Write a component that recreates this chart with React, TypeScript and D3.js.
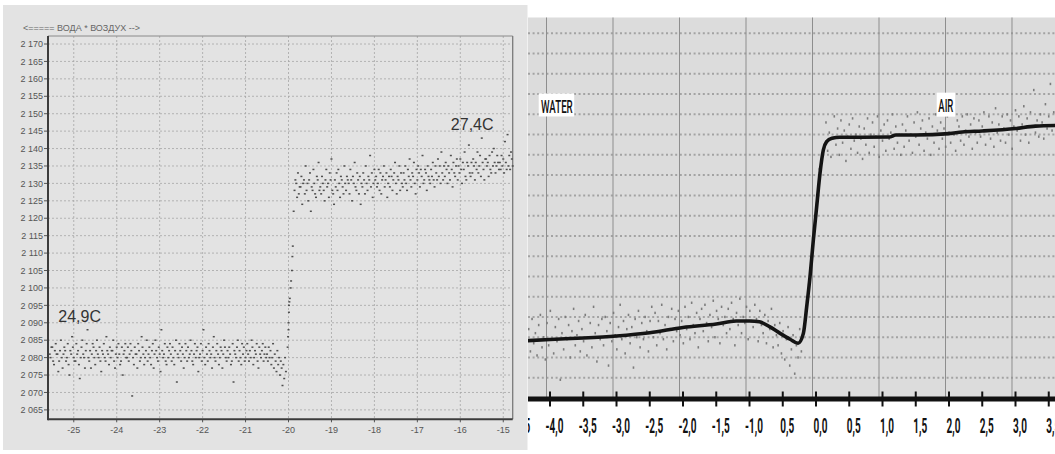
import React from 'react';
import * as d3 from 'd3';

// ---------- Left panel: raw sensor counts while moving from water into air ----------
const leftTitle = '<===== ВОДА * ВОЗДУХ -->';
const leftYTicks = [2065, 2070, 2075, 2080, 2085, 2090, 2095, 2100, 2105, 2110, 2115, 2120, 2125, 2130, 2135, 2140, 2145, 2150, 2155, 2160, 2165, 2170];
const leftXTicks = [-25, -24, -23, -22, -21, -20, -19, -18, -17, -16, -15];
const waterTempLabel = '24,9C';
const airTempLabel = '27,4C';

// samples are 0.02 s apart
const sampleStep = 0.02;
const waterStart = -25.56;
const waterCounts = [
  2081, 2080, 2083, 2083, 2079, 2078, 2082, 2084, 2081, 2081, 2076, 2079, 2082, 2085, 2080, 2077, 2081, 2083, 2082, 2079, 2080, 2084, 2078,
  2075, 2082, 2081, 2086, 2083, 2080, 2079, 2079, 2084, 2081, 2082, 2078, 2074, 2080, 2083, 2085, 2081, 2080, 2077, 2082, 2084, 2088, 2080,
  2079, 2082, 2077, 2081, 2084, 2083, 2080, 2078, 2082, 2085, 2081, 2080, 2083, 2079, 2076, 2082, 2081, 2084, 2080, 2079, 2086, 2082, 2081,
  2078, 2083, 2080, 2082, 2082, 2085, 2079, 2077, 2081, 2083, 2080, 2084, 2081, 2078, 2079, 2083, 2075, 2081, 2082, 2084, 2080, 2080, 2083,
  2079, 2081, 2084, 2082, 2069, 2080, 2078, 2083, 2081, 2081, 2077, 2084, 2082, 2079, 2080, 2086, 2083, 2081, 2078, 2080, 2082, 2085, 2079,
  2081, 2083, 2080, 2078, 2082, 2084, 2077, 2081, 2085, 2082, 2080, 2079, 2083, 2081, 2076, 2088, 2082, 2080, 2081, 2084, 2079, 2078, 2083,
  2080, 2082, 2084, 2081, 2079, 2083, 2080, 2078, 2082, 2085, 2073, 2081, 2080, 2084, 2082, 2079, 2083, 2081, 2077, 2080, 2084, 2082, 2079,
  2083, 2080, 2081, 2085, 2082, 2079, 2078, 2081, 2084, 2080, 2082, 2083, 2076, 2080, 2081, 2084, 2079, 2082, 2088, 2080, 2078, 2083, 2081,
  2079, 2084, 2082, 2080, 2081, 2077, 2083, 2086, 2080, 2079, 2082, 2084, 2081, 2078, 2080, 2083, 2082, 2077, 2081, 2085, 2083, 2080, 2079,
  2082, 2080, 2083, 2081, 2078, 2079, 2084, 2073, 2082, 2081, 2080, 2083, 2085, 2079, 2082, 2080, 2078, 2084, 2081, 2083, 2079, 2080, 2082,
  2084, 2081, 2079, 2082, 2080, 2085, 2083, 2078, 2080, 2082, 2081, 2084, 2079, 2077, 2083, 2081, 2080, 2082, 2084, 2079, 2081, 2083, 2080,
  2081, 2079, 2083, 2080, 2082, 2078, 2080, 2084, 2077, 2081, 2079, 2076, 2082, 2078, 2080, 2075, 2079, 2077, 2072, 2078, 2074, 2080, 2076,
];
// the jump itself
const jumpTimes = [-20.02, -20.01, -20.0, -20.0, -19.99, -19.99, -19.98, -19.97, -19.95, -19.94, -19.92, -19.91, -19.9];
const jumpCounts = [2083, 2086, 2088, 2090, 2093, 2095, 2096, 2097, 2100, 2102, 2105, 2109, 2112];
const airStart = -19.88;
const airCounts = [
  2122, 2128, 2131, 2130, 2126, 2133, 2127, 2129, 2129, 2132, 2124, 2130, 2131, 2127, 2135, 2128,
  2130, 2125, 2131, 2133, 2122, 2129, 2128, 2134, 2130, 2127, 2126, 2132, 2131, 2136, 2128, 2129,
  2127, 2132, 2130, 2128, 2125, 2131, 2134, 2129, 2130, 2126, 2133, 2131, 2137, 2128, 2127, 2124,
  2131, 2129, 2133, 2128, 2134, 2130, 2126, 2132, 2131, 2129, 2127, 2135, 2130, 2128, 2132, 2131,
  2130, 2127, 2134, 2131, 2125, 2132, 2130, 2136, 2129, 2128, 2133, 2131, 2127, 2132, 2124, 2130,
  2129, 2133, 2131, 2127, 2135, 2130, 2128, 2132, 2131, 2138, 2129, 2133, 2126, 2130, 2134, 2131,
  2132, 2129, 2130, 2134, 2128, 2133, 2127, 2131, 2132, 2135, 2129, 2131, 2133, 2126, 2130, 2132,
  2129, 2134, 2132, 2128, 2131, 2133, 2136, 2130, 2127, 2132, 2131, 2135, 2128, 2133, 2130, 2129,
  2133, 2131, 2135, 2130, 2128, 2134, 2132, 2137, 2131, 2129, 2133, 2132, 2136, 2130, 2127, 2134,
  2131, 2135, 2133, 2129, 2134, 2132, 2138, 2130, 2131, 2134, 2133, 2128, 2135, 2132, 2131, 2130,
  2134, 2132, 2136, 2131, 2129, 2135, 2133, 2131, 2137, 2132, 2135, 2130, 2139, 2133, 2131, 2135,
  2132, 2136, 2134, 2130, 2135, 2133, 2131, 2138, 2134, 2129, 2136, 2133, 2132, 2135, 2137, 2131,
  2135, 2133, 2137, 2134, 2130, 2136, 2134, 2139, 2132, 2131, 2136, 2135, 2141, 2133, 2132, 2136,
  2133, 2137, 2135, 2131, 2136, 2134, 2139, 2133, 2135, 2138, 2132, 2143, 2136, 2134, 2131, 2137,
  2137, 2135, 2136, 2132, 2138, 2134, 2133, 2139, 2135, 2140, 2136, 2133, 2135, 2138, 2136, 2134,
  2136, 2134, 2138, 2135, 2137, 2133, 2142, 2136, 2134, 2144, 2135, 2138, 2134, 2139, 2137, 2135,
];

// ---------- Right panel: filtered response across the water/air boundary ----------
const rightTicks = [-4.5, -4, -3.5, -3, -2.5, -2, -1.5, -1, -0.5, 0, 0.5, 1, 1.5, 2, 2.5, 3, 3.5];
const rightTickLabels = ['-4,5', '-4,0', '-3,5', '-3,0', '-2,5', '-2,0', '-1,5', '-1,0', '0,5', '0,0', '0,5', '1,0', '1,5', '2,0', '2,5', '3,0', '3,5'];
const rightVGrid = [-4, -3, -2, -1, 0, 1, 2, 3];
const rightHGrid = [0, 1, 2, 3, 4, 5, 6, 7, 8, 9, 10, 11, 12, 13, 14, 15, 16, 17];

const fitX = [-4.35, -4.0, -3.5, -3.0, -2.5, -2.0, -1.5, -1.2, -1.0, -0.85, -0.7, -0.54, -0.39, -0.27, -0.19, -0.14, -0.09, -0.04, 0.01, 0.06, 0.11, 0.16, 0.24, 0.36, 0.7, 1.1, 1.2, 1.5, 2.0, 2.2, 2.5, 3.0, 3.3, 3.65];
const fitY = [1.83, 1.89, 1.96, 2.06, 2.22, 2.48, 2.65, 2.8, 2.8, 2.76, 2.52, 2.19, 1.9, 1.7, 2.19, 3.5, 4.99, 6.8, 8.44, 10.09, 11.24, 11.65, 11.82, 11.87, 11.87, 11.88, 11.98, 11.98, 12.05, 12.13, 12.18, 12.3, 12.42, 12.45];

const rightStep = 0.025;
const rightWaterStart = -4.32;
const rightWaterVals = [
  2.4, 1.3, 2.9, 1.7, 2.2, 1.1, 2.6, 3.1, 1.5, 2.0, 0.9, 2.7, 1.6, 3.3, 1.9,
  1.2, 2.5, 1.8, 2.9, -0.1, 2.2, 1.4, 3.0, 1.9, 2.6, 1.0, 2.3, 3.4, 1.6, 2.1,
  2.8, 1.3, 2.4, 1.8, 3.1, 1.1, 2.0, 2.7, 1.5, 3.5, 2.2, 0.8, 2.6, 1.9, 2.9,
  1.6, 3.0, 2.3, 0.6, 2.7, 1.8, 3.2, 2.1, 1.4, 2.5, 3.6, 1.9, 2.8, 1.2, 2.4,
  3.1, 1.7, 2.5, 0.5, 2.9, 2.0, 3.3, 1.5, 2.7, 1.9, 3.0, 2.3, 1.3, 2.8, 3.5,
  2.0, 3.2, 1.6, 2.8, 2.2, 3.6, 1.9, 2.6, 1.4, 3.0, 2.4, 3.4, 1.8, 2.9, 2.3,
  3.3, 2.1, 2.8, 1.7, 3.5, 2.4, 3.0, 1.9, 3.7, 2.6, 2.2, 3.2, 1.5, 2.9, 3.4,
  2.3, 3.6, 2.7, 1.8, 3.1, 2.5, 3.8, 2.0, 3.3, 2.9, 1.7, 3.5, 2.6, 3.0, 2.2,
  3.4, 2.4, 3.7, 2.9, 1.6, 3.2, 2.6, 3.9, 2.2, 3.0, 2.7, 3.5, 1.9, 3.3, 2.8,
  2.5, 3.6, 2.9, 1.8, 3.3, 2.6, 2.2, 3.1, 1.7, 2.8, 2.4, 3.4, 1.5, 2.6, 2.1,
  1.6, 2.7, 1.2, 2.3, 0.9, 1.9, 2.5, 0.6, 1.4, 2.1, 0.2, 1.6, 1.0, 2.4, 1.3,
];
const rightJumpX = [-0.17, -0.14, -0.11, -0.08, -0.05, -0.02, 0.01, 0.05, 0.09];
const rightJumpY = [2.6, 3.8, 4.6, 5.3, 6.9, 7.6, 8.6, 10.3, 11.0];
const rightAirStart = 0.15;
const rightAirVals = [
  12.6, 11.2, 12.1, 10.9, 11.8, 12.9, 11.5, 12.3, 11.0, 12.7, 11.6, 12.2, 10.7, 11.9, 12.5, 11.3, 12.8, 11.7, 12.0, 11.1, 12.4, 11.8, 10.8,
  12.3, 11.5, 12.8, 11.1, 12.0, 12.6, 11.4, 11.9, 12.9, 10.9, 12.2, 11.7, 12.5, 11.2, 12.7, 11.8, 12.1, 13.0, 11.3, 12.4, 11.6, 12.0, 11.0,
  12.5, 11.4, 12.2, 12.9, 11.7, 12.0, 11.1, 12.6, 11.9, 13.1, 11.5, 12.3, 12.7, 11.2, 12.1, 11.8, 12.8, 11.0, 12.4, 11.6, 13.0, 12.2, 11.3,
  12.6, 11.8, 12.3, 11.4, 12.9, 12.1, 11.6, 13.2, 12.0, 11.2, 12.7, 12.4, 11.7, 12.9, 11.5, 12.2, 13.0, 11.9, 12.5, 11.3, 12.8, 12.1, 11.6,
  12.7, 11.9, 12.4, 13.1, 11.5, 12.2, 12.9, 11.8, 12.6, 11.4, 13.3, 12.1, 12.5, 11.7, 12.9, 12.3, 11.6, 13.0, 12.0, 12.7, 11.3, 12.4, 13.2,
  12.2, 12.9, 11.7, 12.5, 13.4, 12.0, 12.8, 11.6, 13.1, 12.4, 14.2, 12.1, 12.7, 11.9, 13.0, 12.6, 11.8, 13.5, 12.3, 12.9, 14.5, 12.2, 13.1,
];
const waterLabel = 'WATER';
const airLabel = 'AIR';

const W = 1055;
const H = 454;

const countFormat = d3.formatLocale({ decimal: ',', thousands: ' ', grouping: [3], currency: ['', ''] }).format(',d');

function LeftPanel() {
  const x = d3.scaleLinear().domain([-25.6, -14.78]).range([48, 512.7]);
  const y = d3.scaleLinear().domain([2062.3, 2172.3]).range([419.3, 36]);
  const [x0, x1] = x.range();
  const [y0, y1] = y.range();
  const font = '"Liberation Sans", Arial, sans-serif';

  const pts: [number, number][] = [
    ...waterCounts.map((v, i) => [waterStart + i * sampleStep, v] as [number, number]),
    ...jumpTimes.map((t, i) => [t, jumpCounts[i]] as [number, number]),
    ...airCounts.map((v, i) => [airStart + i * sampleStep, v] as [number, number]),
  ];

  return (
    <g>
      <rect x={3} y={5} width={524.5} height={445} fill="#e3e3e3" />
      <text x={23} y={30.5} fontFamily={font} fontSize={9} fill="#666">{leftTitle}</text>
      {leftYTicks.map((v) => (
        <g key={'ly' + v}>
          <line x1={x0} x2={x1} y1={y(v)} y2={y(v)} stroke="#a6a6a6" strokeWidth={0.8} strokeDasharray="2,2" />
          <line x1={x0 - 4} x2={x0} y1={y(v)} y2={y(v)} stroke="#555" strokeWidth={1} />
          <text x={43} y={y(v) + 3.2} textAnchor="end" fontFamily={font} fontSize={9} fill="#555">{countFormat(v)}</text>
        </g>
      ))}
      {leftXTicks.map((v) => (
        <g key={'lx' + v}>
          <line x1={x(v)} x2={x(v)} y1={y1} y2={y0} stroke="#a6a6a6" strokeWidth={0.8} strokeDasharray="2,2" />
          <line x1={x(v)} x2={x(v)} y1={y0} y2={y0 + 3} stroke="#555" strokeWidth={1} />
          <text x={x(v)} y={433} textAnchor="middle" fontFamily={font} fontSize={9} fill="#555">{v}</text>
        </g>
      ))}
      <line x1={x0} x2={x1} y1={y1} y2={y1} stroke="#8a8a8a" strokeWidth={1} />
      <line x1={x1} x2={x1} y1={y1} y2={y0} stroke="#7a7a7a" strokeWidth={1.3} />
      <line x1={x0} x2={x0} y1={y1} y2={y0 + 1} stroke="#3c3c3c" strokeWidth={2} />
      <line x1={x0} x2={x1} y1={y0} y2={y0} stroke="#3c3c3c" strokeWidth={2} />
      {pts.map(([t, v], i) => (
        <rect key={'lp' + i} x={x(t) - 1} y={y(v) - 0.75} width={2} height={1.5} fill="#4e4e4e" />
      ))}
      <text x={x(-25.36)} y={y(2090.35)} fontFamily={font} fontSize={16} fill="#333">{waterTempLabel}</text>
      <text x={x(-16.22)} y={y(2145.3)} fontFamily={font} fontSize={16} fill="#333">{airTempLabel}</text>
    </g>
  );
}

function RightPanel() {
  const x = d3.scaleLinear().domain([-4.331, 3.594]).range([528, 1055]);
  const y = d3.scaleLinear().domain([-1.05, 17.78]).range([399, 17.5]);
  const [x0, x1] = x.range();
  const axisY = y(-1.05);
  const top = y(17.78);
  const cond = 'Roboto, "DejaVu Sans", sans-serif';

  const line = d3
    .line<number>()
    .x((_, i) => x(fitX[i]))
    .y((d) => y(d))
    .curve(d3.curveMonotoneX);

  const pts: [number, number][] = [
    ...rightWaterVals.map((v, i) => [rightWaterStart + i * rightStep, v] as [number, number]),
    ...rightJumpX.map((t, i) => [t, rightJumpY[i]] as [number, number]),
    ...rightAirVals.map((v, i) => [rightAirStart + i * rightStep, v] as [number, number]),
  ];

  return (
    <g>
      <defs>
        <clipPath id="rightClip">
          <rect x={x0} y={0} width={x1 - x0} height={H} />
        </clipPath>
      </defs>
      <g clipPath="url(#rightClip)">
        <rect x={x0} y={0} width={x1 - x0} height={H} fill="#ffffff" />
        <rect x={x0} y={top} width={x1 - x0} height={axisY - 2 - top} fill="#dcdcdc" />
        {rightHGrid.map((v) => (
          <line key={'rh' + v} x1={x0} x2={x1} y1={y(v)} y2={y(v)} stroke="#a3a3a3" strokeWidth={2} strokeDasharray="2,2.6" />
        ))}
        {rightVGrid.map((v) => (
          <line key={'rv' + v} x1={x(v) - 3.5} x2={x(v) - 3.5} y1={top} y2={axisY - 2} stroke="#8e8e8e" strokeWidth={1} />
        ))}
        {pts.map(([t, v], i) => (
          <rect key={'rp' + i} x={x(t) - 0.8} y={y(v) - 1.2} width={1.6} height={2.4} fill="#7c7c7c" />
        ))}
        <path d={line(fitY) || ''} fill="none" stroke="#141414" strokeWidth={3.6} strokeLinejoin="round" />
        <line x1={x0} x2={x1} y1={axisY} y2={axisY} stroke="#111" strokeWidth={5} />
        {rightTicks.map((v, i) => (
          <g key={'rt' + v + '_' + i}>
            <line x1={x(v)} x2={x(v)} y1={axisY - 7.5} y2={axisY + 7.5} stroke="#111" strokeWidth={2} />
            <g transform={`translate(${x(v) + 4.5},432.7) scale(0.5,1)`}>
              <text x={0} y={0} textAnchor="middle" fontFamily={cond} fontWeight={700} fontSize={20} fill="#111">{rightTickLabels[i]}</text>
            </g>
          </g>
        ))}
        <rect x={x(-4.17)} y={y(14.03)} width={35.5} height={23} fill="#ffffff" />
        <text x={x(-4.135)} y={y(13.08)} fontFamily={cond} fontWeight={500} fontSize={18} fill="#111" textLength={31.7} lengthAdjust="spacingAndGlyphs">{waterLabel}</text>
        <rect x={x(1.815)} y={y(14.07)} width={18.5} height={24} fill="#ffffff" />
        <text x={x(1.84)} y={y(13.1)} fontFamily={cond} fontWeight={500} fontSize={18} fill="#111" textLength={15} lengthAdjust="spacingAndGlyphs">{airLabel}</text>
      </g>
    </g>
  );
}

export default function App() {
  return (
    <svg
      width={W}
      height={H}
      viewBox={`0 0 ${W} ${H}`}
      style={{ position: 'fixed', left: 0, top: 0, display: 'block', background: '#ffffff' }}
    >
      <rect x={0} y={0} width={W} height={H} fill="#ffffff" />
      <LeftPanel />
      <RightPanel />
    </svg>
  );
}
